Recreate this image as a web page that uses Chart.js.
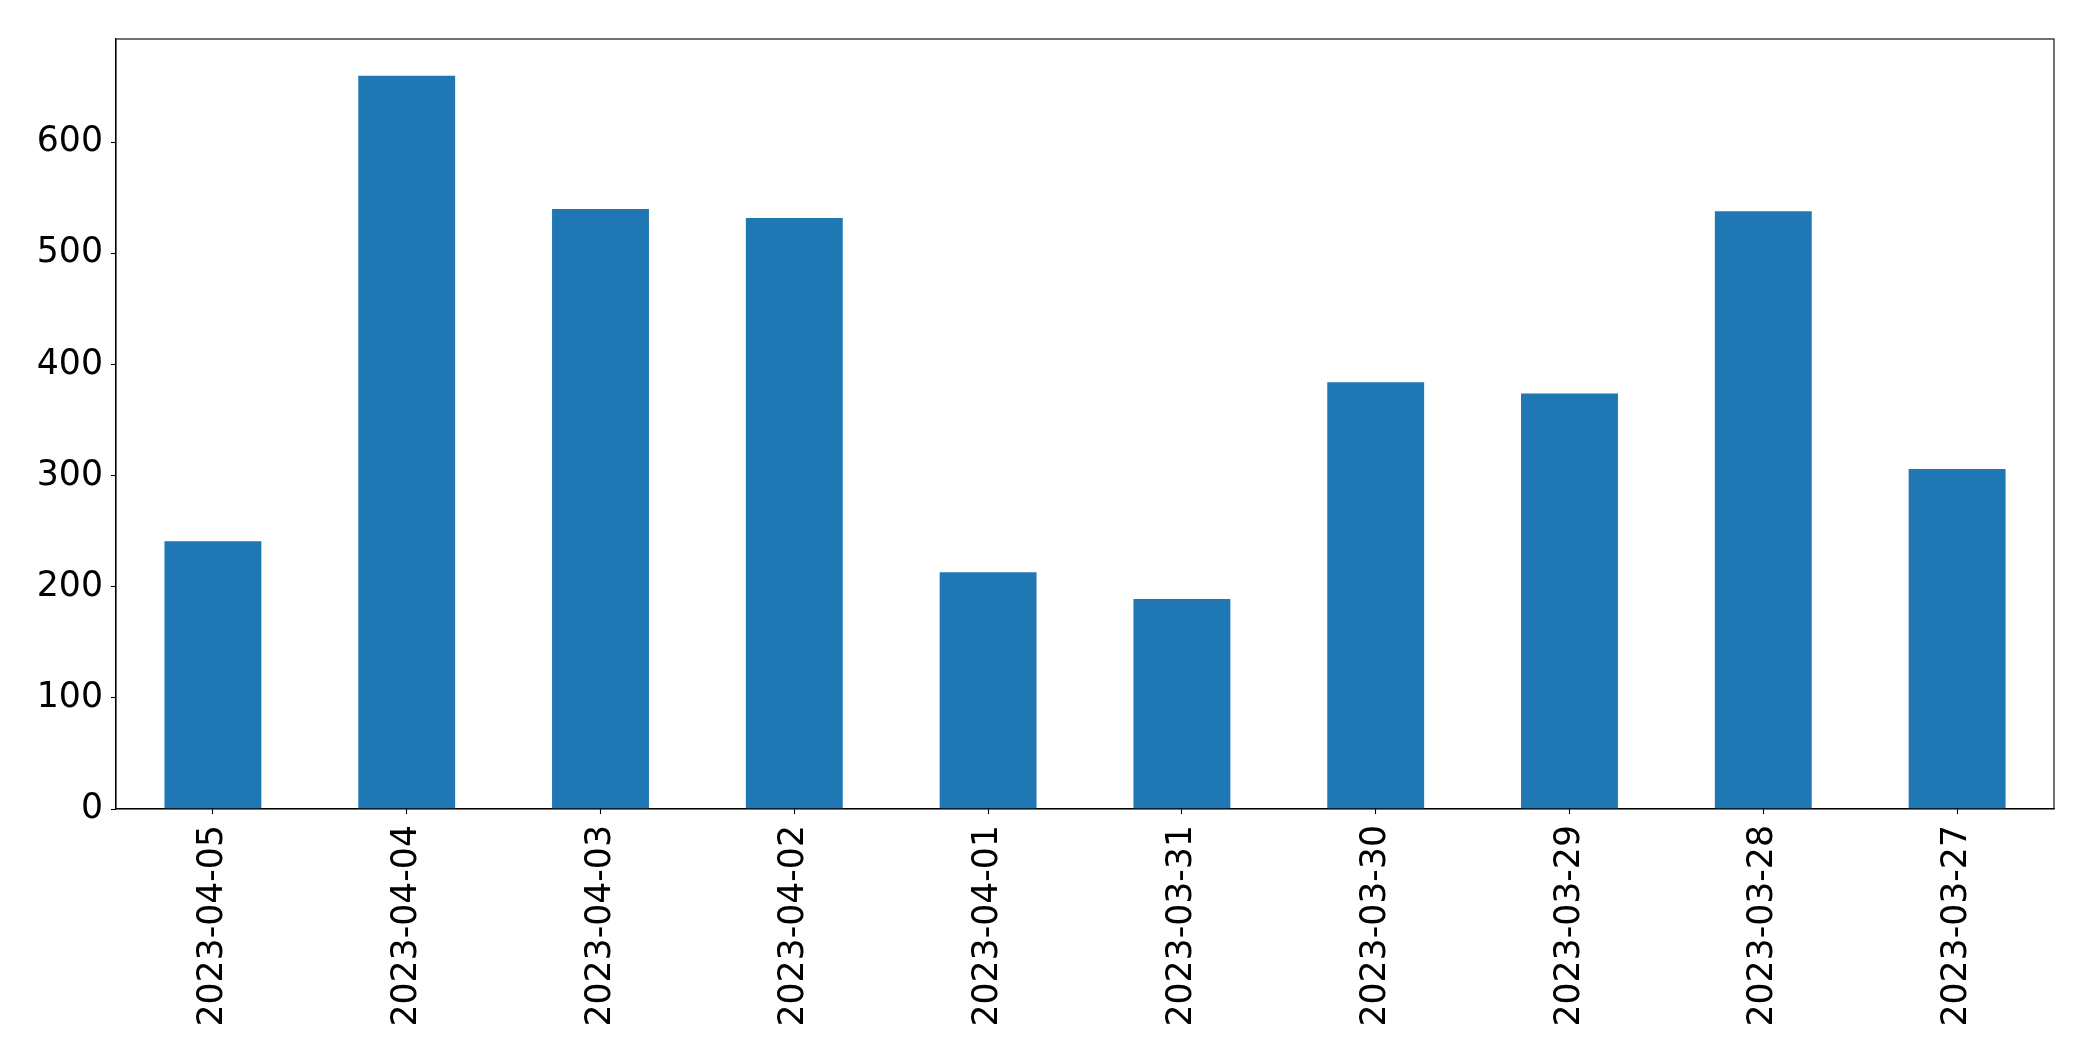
<!DOCTYPE html>
<html>
<head>
<meta charset="utf-8">
<script src="https://cdn.jsdelivr.net/npm/chart.js@4"></script>
<style>
	html, body { margin: 0; padding: 0; background: #fff; }
	canvas { display: block; }
</style>
</head>
<body>
<canvas id="chart" width="2093" height="1061"></canvas>
<script>
// Dates on the x axis, newest first (as in the original)
const dates = ["2023-04-05", "2023-04-04", "2023-04-03", "2023-04-02", "2023-04-01",
	"2023-03-31", "2023-03-30", "2023-03-29", "2023-03-28", "2023-03-27"];

// Daily counts
const counts = [241, 660, 540, 532, 213, 189, 384, 374, 538, 306];

// Y axis range and tick values
const yMin = 0;
const yMax = 693;
const yTicks = [0, 100, 200, 300, 400, 500, 600];

// Draws the box around the plot area
const frame = {
	id: "frame",
	afterDraw(chart) {
		const { ctx, chartArea } = chart;
		ctx.save();
		ctx.strokeStyle = "#000";
		ctx.lineWidth = 1.1;
		ctx.strokeRect(chartArea.left, chartArea.top,
			chartArea.right - chartArea.left, chartArea.bottom - chartArea.top);
		ctx.restore();
	},
};

const font = { family: "DejaVu Sans", size: 34.7 };

new Chart(document.getElementById("chart"), {
	type: "bar",
	data: {
		labels: dates,
		datasets: [
			{
				data: counts,
				backgroundColor: "#1f77b4",
				barPercentage: 0.5,
				categoryPercentage: 1,
			},
		],
	},
	options: {
		responsive: false,
		animation: false,
		layout: { padding: { top: 39, right: 39, left: 0, bottom: 0 } },
		plugins: {
			legend: { display: false },
			tooltip: { enabled: false },
		},
		scales: {
			x: {
				offset: true,
				grid: {
					offset: false,
					drawOnChartArea: false,
					tickLength: 5,
					tickColor: "#000",
					tickWidth: 1.1,
				},
				border: { color: "#000", width: 1.1 },
				ticks: {
					color: "#000",
					font: font,
					maxRotation: 90,
					minRotation: 90,
					autoSkip: false,
					padding: 11,
				},
				afterFit(scale) {
					scale.height = 252;
				},
			},
			y: {
				min: yMin,
				max: yMax,
				grid: {
					drawOnChartArea: false,
					tickLength: 5,
					tickColor: "#000",
					tickWidth: 1.1,
				},
				border: { color: "#000", width: 1.1 },
				ticks: {
					color: "#000",
					font: font,
					padding: 8,
				},
				afterBuildTicks(scale) {
					scale.ticks = yTicks.map((v) => ({ value: v }));
				},
				afterFit(scale) {
					scale.width = 116;
				},
			},
		},
	},
	plugins: [frame],
});
</script>
</body>
</html>
